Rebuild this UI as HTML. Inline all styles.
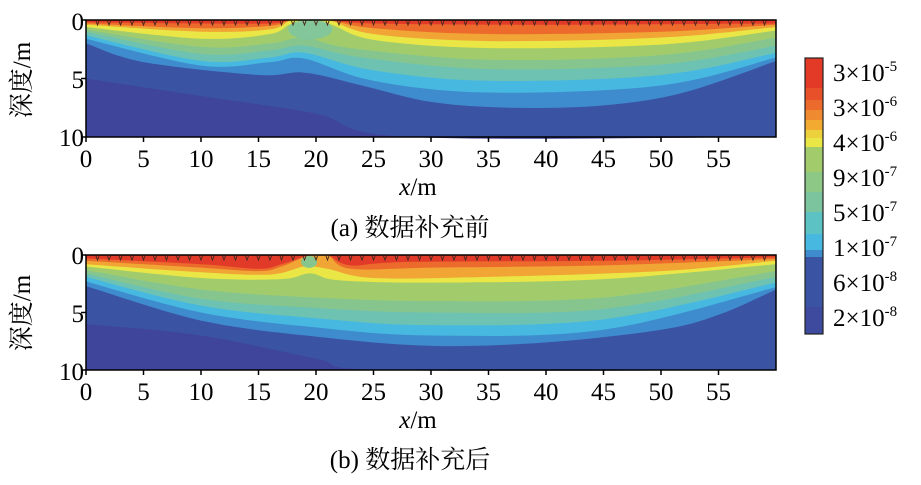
<!DOCTYPE html>
<html><head><meta charset="utf-8"><style>
body{margin:0;background:#fff;width:921px;height:480px;overflow:hidden}
text{font-family:"Liberation Serif","Noto Serif CJK SC",serif;fill:#000}
</style></head><body>
<svg id="s" width="921" height="480" xmlns="http://www.w3.org/2000/svg">
<g id="pa"></g><g id="pb"></g>
<g font-size="25">
<text x="84" y="30" text-anchor="end">0</text>
<text x="84" y="88" text-anchor="end">5</text>
<text x="84" y="146" text-anchor="end">10</text>
<text x="84" y="264" text-anchor="end">0</text>
<text x="84" y="322" text-anchor="end">5</text>
<text x="84" y="380" text-anchor="end">10</text>
</g>
<text transform="translate(30,80) rotate(-90)" font-size="25" text-anchor="middle">深度/m</text>
<text transform="translate(30,313) rotate(-90)" font-size="25" text-anchor="middle">深度/m</text>
<g id="xt" font-size="25"></g>
<text x="418" y="195" font-size="25" text-anchor="middle"><tspan font-style="italic">x</tspan>/m</text>
<text x="418" y="428" font-size="25" text-anchor="middle"><tspan font-style="italic">x</tspan>/m</text>
<text x="410" y="236" font-size="25" text-anchor="middle">(a) 数据补充前</text>
<text x="410" y="468" font-size="25" text-anchor="middle">(b) 数据补充后</text>
<g id="cb"></g>
<g font-size="25">
<text x="833" y="81">3×10<tspan font-size="15" dy="-10">-5</tspan></text>
<text x="833" y="116">3×10<tspan font-size="15" dy="-10">-6</tspan></text>
<text x="833" y="151">4×10<tspan font-size="15" dy="-10">-6</tspan></text>
<text x="833" y="186">9×10<tspan font-size="15" dy="-10">-7</tspan></text>
<text x="833" y="221">5×10<tspan font-size="15" dy="-10">-7</tspan></text>
<text x="833" y="256">1×10<tspan font-size="15" dy="-10">-7</tspan></text>
<text x="833" y="291">6×10<tspan font-size="15" dy="-10">-8</tspan></text>
<text x="833" y="326">2×10<tspan font-size="15" dy="-10">-8</tspan></text>
</g>
</svg>
<script>
var NS="http://www.w3.org/2000/svg";
function el(p,t,a){var e=document.createElementNS(NS,t);for(var k in a)e.setAttribute(k,a[k]);p.appendChild(e);return e;}
var X0=86,SX=11.5;
function smooth(pts){ // catmull-rom sample
 var out=[];
 for(var i=0;i<pts.length-1;i++){
  var p0=pts[Math.max(0,i-1)],p1=pts[i],p2=pts[i+1],p3=pts[Math.min(pts.length-1,i+2)];
  for(var t=0;t<1;t+=0.1){
   var t2=t*t,t3=t2*t;
   function f(a,b,c,d){return 0.5*((2*b)+(-a+c)*t+(2*a-5*b+4*c-d)*t2+(-a+3*b-3*c+d)*t3);}
   out.push([f(p0[0],p1[0],p2[0],p3[0]),Math.max(0,f(p0[1],p1[1],p2[1],p3[1]))]);
  }
 }
 out.push(pts[pts.length-1]);return out;
}
function plot(g,y0,y1,layers,blob){
 var sy=(y1-y0)/10;
 el(g,"rect",{x:X0,y:y0,width:690,height:y1-y0,fill:"#e23a28"});
 layers.forEach(function(L){
  var d="M"+X0+","+y1;
  smooth(L[1]).forEach(function(p){d+=" L"+(X0+p[0]*SX).toFixed(1)+","+(y0+p[1]*sy).toFixed(1);});
  d+=" L776,"+y1+" Z";
  el(g,"path",{d:d,fill:L[0]});
 });
 if(blob)blob(g,y0,sy);
 el(g,"rect",{x:X0,y:y0,width:690,height:y1-y0,fill:"none",stroke:"#000","stroke-width":1.5});
 [y0,y0+5*sy,y1].forEach(function(t){el(g,"line",{x1:X0-5,y1:t,x2:X0,y2:t,stroke:"#000","stroke-width":1.5});});
 for(var i=0;i<=11;i++){var x=X0+i*5*SX;el(g,"line",{x1:x,y1:y1,x2:x,y2:y1+5,stroke:"#000","stroke-width":1.5});}
 for(var i=1;i<60;i++){var x=X0+i*SX;el(g,"path",{d:"M"+(x-1.5)+","+(y0+1)+" L"+x+","+(y0+5)+" L"+(x+1.5)+","+(y0+1),fill:"none",stroke:"#4a2a20","stroke-width":1});}
}
var A=[
 ["#ec6a2c",[[0,0.2],[10,0.3],[16,0.3],[18,0],[21,0],[25,0.3],[40,0.4],[60,0.3]]],
 ["#f0a535",[[0,0.3],[10,0.7],[16,0.5],[18,0],[21,0],[25,0.7],[35,1.2],[50,1.0],[60,0.4]]],
 ["#e9e646",[[0,0.4],[10,1.0],[16,0.8],[18,0],[21,0],[25,1.2],[35,1.8],[50,1.5],[60,0.6]]],
 ["#a2cc6c",[[0,0.6],[10,1.6],[16,1.2],[18,0.3],[21,0.3],[25,1.7],[35,2.4],[50,2.1],[60,0.9]]],
 ["#86c68e",[[0,0.8],[10,2.3],[16,2.0],[19,1.5],[23,2.4],[35,3.4],[50,3.0],[60,1.5]]],
 ["#6ec2b2",[[0,1.0],[10,2.9],[16,2.6],[19,2.2],[24,3.2],[35,4.2],[50,3.8],[60,2.2]]],
 ["#47b9e0",[[0,1.3],[10,3.5],[16,3.2],[19,2.8],[25,4.3],[35,5.2],[50,4.7],[60,2.8]]],
 ["#3e8cce",[[0,1.6],[10,3.9],[16,3.6],[19,3.3],[25,5.2],[35,6.2],[50,5.6],[60,3.2]]],
 ["#3b53a3",[[0,2.0],[5,3.6],[15,4.7],[19,4.5],[24,5.6],[30,7.0],[37,7.5],[45,7.3],[52,6.2],[60,3.5]]],
 ["#3f459a",[[0,5],[10,6.5],[20,8],[28,10],[60,10]]]
];
var B=[
 ["#ec6a2c",[[0,0.3],[10,0.8],[15,1.2],[17,0.8],[19.5,0],[21,0],[23,0.9],[28,0.6],[45,0.5],[60,0.2]]],
 ["#f0a535",[[0,0.5],[10,1.1],[15,1.4],[17,1.0],[19.5,0],[21,0],[23,1.2],[30,1.1],[45,0.9],[60,0.35]]],
 ["#e9e646",[[0,0.8],[10,1.5],[16,1.7],[19,1.0],[21,1.2],[25,2.0],[35,1.9],[50,1.4],[60,0.5]]],
 ["#a2cc6c",[[0,1.0],[10,2.0],[17,2.1],[19.5,1.6],[22,2.2],[30,2.4],[45,2.1],[60,0.8]]],
 ["#86c68e",[[0,1.3],[10,3.0],[20,3.7],[30,4.0],[45,3.7],[60,1.4]]],
 ["#6ec2b2",[[0,1.6],[10,3.8],[20,4.6],[30,5.0],[45,4.7],[60,1.9]]],
 ["#47b9e0",[[0,1.9],[10,4.4],[20,5.5],[30,6.1],[45,5.6],[60,2.4]]],
 ["#3e8cce",[[0,2.3],[10,5.0],[20,6.3],[30,7.0],[45,6.5],[60,2.8]]],
 ["#3b53a3",[[0,2.7],[10,5.7],[20,7.1],[30,7.9],[40,7.6],[50,6.5],[55,5.2],[60,3.0]]],
 ["#3f459a",[[0,6],[10,7],[20,9],[26,10],[60,10]]]
];
plot(document.getElementById("pa"),20,137,A,function(g,y0,sy){
 el(g,"ellipse",{cx:X0+19.5*SX,cy:y0+0.8*sy,rx:22,ry:10,fill:"#7bc4a6",opacity:0.8});
});
plot(document.getElementById("pb"),255,370,B,function(g,y0,sy){
 el(g,"ellipse",{cx:X0+19.4*SX,cy:y0+0.6*sy,rx:8,ry:6,fill:"#86c68e"});
});
var xt=document.getElementById("xt");
for(var i=0;i<=11;i++){var x=X0+i*5*SX;
 var t1=el(xt,"text",{x:x,y:167,"text-anchor":"middle"});t1.textContent=i*5;
 var t2=el(xt,"text",{x:x,y:400,"text-anchor":"middle"});t2.textContent=i*5;}
var cb=document.getElementById("cb");
var cols=[["#e33a28",58,30],["#e8502a",88,12],["#ec6a2c",100,10],["#ef8a30",110,10],["#f2aa30",120,10],["#ecd03c",130,8],["#e9e646",138,9],["#a2cc6c",147,25],["#8ec887",172,20],["#7bc49d",192,20],["#5cc2c4",212,22],["#47b9e0",234,16],["#3e8cce",250,7],["#3b53a3",257,50],["#3d4a9e",307,27]];
cols.forEach(function(c){el(cb,"rect",{x:805,y:c[1],width:18,height:c[2]+0.5,fill:c[0]});});
el(cb,"rect",{x:805,y:58,width:18,height:276,fill:"none",stroke:"#222","stroke-width":1.2});
</script>
</body></html>
